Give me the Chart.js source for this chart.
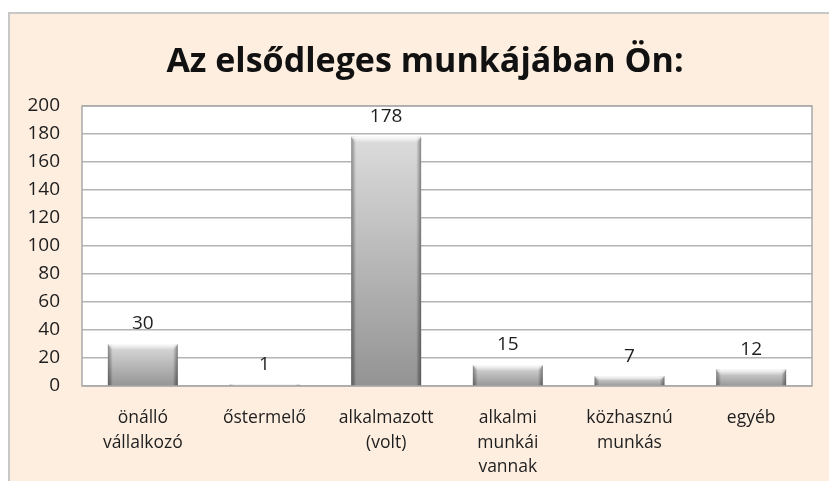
<!DOCTYPE html>
<html>
<head>
<meta charset="utf-8">
<script src="https://cdn.jsdelivr.net/npm/chart.js@4/dist/chart.umd.min.js"></script>
<style>
  body { margin: 0; background: #fff; width: 829px; height: 481px; overflow: hidden; }
  #box { position: absolute; left: 8px; top: 12px; width: 830px; height: 480px;
         background: #fdeee0; border: 2px solid #c8c8c8; box-sizing: border-box; }
  #myChart { position: absolute; left: 8px; top: 12px; }
</style>
</head>
<body>
<div id="box"></div>
<canvas id="myChart" width="821" height="469"></canvas>
<script>
const chartTitle = 'Az elsődleges munkájában Ön:';
const categories = [
  ['önálló', 'vállalkozó'],
  'őstermelő',
  ['alkalmazott', '(volt)'],
  ['alkalmi', 'munkái', 'vannak'],
  ['közhasznú', 'munkás'],
  'egyéb'
];
const answers = [30, 1, 178, 15, 7, 12];
const yMax = 200;
const yStep = 20;

const font = '"Open Sans", Lato, sans-serif';

// title, a bit right of the canvas centre like the original
const titleText = {
  id: 'titleText',
  afterDraw(chart) {
    const c = chart.ctx;
    c.save();
    c.fillStyle = '#111';
    c.font = 'bold 34px ' + font;
    c.textAlign = 'center';
    c.textBaseline = 'middle';
    c.fillText(chartTitle, 417, 50);
    c.restore();
  }
};

// white plot area with a gray frame
const plotFrame = {
  id: 'plotFrame',
  beforeDatasetsDraw(chart) {
    const a = chart.chartArea;
    const c = chart.ctx;
    c.save();
    c.strokeStyle = '#a9a9a9';
    c.lineWidth = 1.5;
    c.strokeRect(a.left, a.top, a.right - a.left, a.bottom - a.top);
    c.restore();
  },
  beforeDraw(chart) {
    const a = chart.chartArea;
    chart.ctx.save();
    chart.ctx.fillStyle = '#ffffff';
    chart.ctx.fillRect(a.left, a.top, a.right - a.left, a.bottom - a.top);
    chart.ctx.restore();
  }
};

// bevelled edges on the bars and value labels above them
const barLook = {
  id: 'barLook',
  afterDatasetsDraw(chart) {
    const c = chart.ctx;
    const meta = chart.getDatasetMeta(0);
    meta.data.forEach((el, i) => {
      const left = el.x - el.width / 2;
      const h = el.base - el.y;
      const g = c.createLinearGradient(left, 0, left + el.width, 0);
      g.addColorStop(0, 'rgba(0,0,0,0.35)');
      g.addColorStop(0.045, 'rgba(0,0,0,0.12)');
      g.addColorStop(0.07, 'rgba(255,255,255,0.1)');
      g.addColorStop(0.93, 'rgba(255,255,255,0.1)');
      g.addColorStop(0.955, 'rgba(0,0,0,0.12)');
      g.addColorStop(1, 'rgba(0,0,0,0.38)');
      c.save();
      c.fillStyle = g;
      c.fillRect(left, el.y, el.width, h);
      const bev = Math.min(6, h / 2);
      if (bev > 0) {
        const t = c.createLinearGradient(0, el.y, 0, el.y + bev);
        t.addColorStop(0, 'rgba(255,255,255,0.9)');
        t.addColorStop(1, 'rgba(255,255,255,0)');
        c.fillStyle = t;
        c.beginPath();
        c.moveTo(left, el.y);
        c.lineTo(left + el.width, el.y);
        c.lineTo(left + el.width - 4, el.y + bev);
        c.lineTo(left + 4, el.y + bev);
        c.closePath();
        c.fill();
      }
      c.fillStyle = '#1e1e1e';
      c.font = '19px ' + font;
      c.textAlign = 'center';
      c.textBaseline = 'middle';
      c.fillText(answers[i], el.x, el.y - 20);
      c.restore();
    });
  }
};

const ctx = document.getElementById('myChart').getContext('2d');
const chart = new Chart(ctx, {
  type: 'bar',
  data: {
    labels: categories,
    datasets: [{
      data: answers,
      backgroundColor(context) {
        const y = context.chart.scales.y;
        if (!y || context.raw == null) return '#aaa';
        const top = y.getPixelForValue(context.raw);
        const base = y.getPixelForValue(0);
        if (!isFinite(top) || !isFinite(base)) return '#aaa';
        const g = context.chart.ctx.createLinearGradient(0, top, 0, base + 1);
        g.addColorStop(0, '#d8d8d8');
        g.addColorStop(1, '#878787');
        return g;
      },
      borderWidth: 0,
      categoryPercentage: 1,
      barPercentage: 0.575
    }]
  },
  plugins: [plotFrame, barLook, titleText],
  options: {
    responsive: false,
    animation: false,
    layout: { padding: { left: 0, right: 17, top: 94, bottom: 0 } },
    plugins: {
      legend: { display: false },
      tooltip: { enabled: false },
      title: { display: false }
    },
    scales: {
      x: {
        grid: { display: false },
        border: { display: false },
        ticks: {
          color: '#1e1e1e',
          font: { family: font, size: 17.5, lineHeight: 1.4 },
          padding: 12,
          maxRotation: 0,
          autoSkip: false
        },
        afterFit(scale) { scale.height = 95; }
      },
      y: {
        min: 0,
        max: yMax,
        grid: { color: '#b4b4b4', lineWidth: 1.5, drawTicks: false },
        border: { display: false },
        ticks: {
          stepSize: yStep,
          color: '#1e1e1e',
          font: { family: font, size: 19 },
          padding: 22
        },
        afterFit(scale) { scale.width = 74; }
      }
    }
  }
});
</script>
</body>
</html>
